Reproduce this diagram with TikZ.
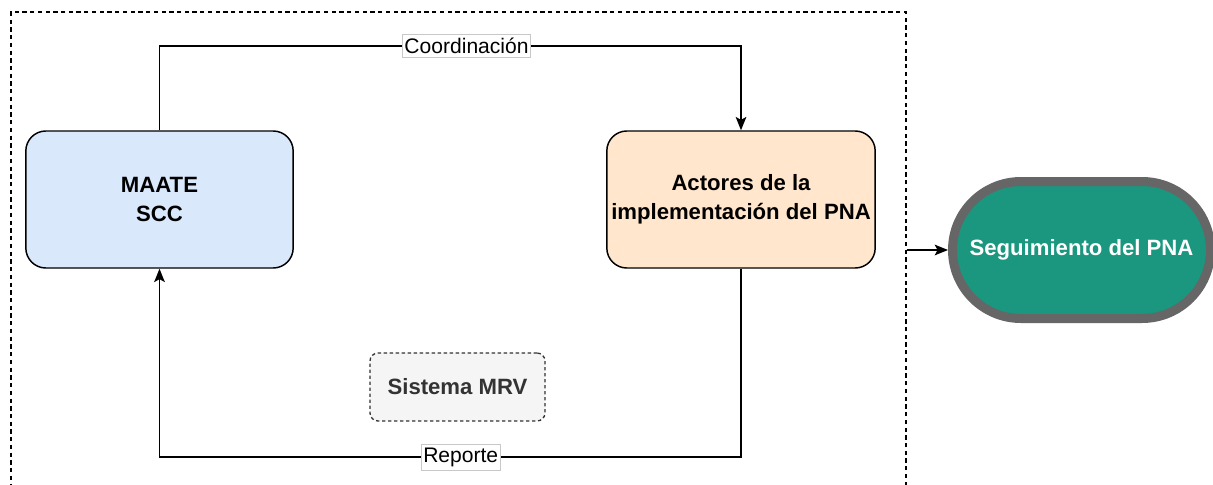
\documentclass[tikz,border=0pt]{standalone}
\usepackage{fontspec}
\setmainfont{Liberation Sans}
\usetikzlibrary{arrows.meta,shapes.misc}
\definecolor{bluefill}{HTML}{DAE8FC}
\definecolor{orangefill}{HTML}{FFE6CC}
\definecolor{grayfill}{HTML}{F5F5F5}
\definecolor{graytext}{HTML}{333333}
\definecolor{tealfill}{HTML}{1B967F}
\definecolor{tealborder}{HTML}{666666}
\definecolor{labelborder}{HTML}{C8C8C8}
\tikzset{
  px/.style={x=0.75pt,y=-0.75pt},
  boldtext/.style={font=\fontsize{16.6}{22}\selectfont\bfseries},
  mainbox/.style={draw=black, line width=1.1pt, rounded corners=15pt, align=center,
    boldtext, minimum width=200.5pt, minimum height=102.75pt},
  conn/.style={draw=black, line width=1.1pt},
  tip/.style={-{Stealth[length=10pt,width=8pt,inset=2.2pt]}},
  edgelabel/.style={fill=white, draw=labelborder, line width=0.6pt, inner xsep=1.3pt,
    inner ysep=2.6pt, font=\fontsize{15.8}{18}\selectfont},
}
\begin{document}
\begin{tikzpicture}[px]
\useasboundingbox (0,0) rectangle (1213,485);
\clip (0,0) rectangle (1213,485);
\fill[white] (0,0) rectangle (1213,485);
% dashed frame
\node[draw=black, line width=1.1pt, dash pattern=on 3.2pt off 2.6pt,
  minimum width=671.25pt, minimum height=357pt, inner sep=0pt] (frame) at (458.5,250) {};
% nodes
\node[mainbox, fill=bluefill] (maate) at (159.5,199.5) {MAATE\\SCC};
\node[mainbox, fill=orangefill] (actores) at (741,199.5) {Actores de la\\implementación del PNA};
\node[draw=graytext, fill=grayfill, line width=1pt, dash pattern=on 2.5pt off 2pt,
  rounded corners=6pt, minimum width=131.25pt, minimum height=51pt,
  text=graytext, boldtext] (mrv) at (457.5,387) {Sistema MRV};
\node[rounded rectangle, draw=tealborder, line width=6.75pt, fill=tealfill, text=white,
  minimum width=193.5pt, minimum height=102.75pt, inner sep=0pt,
  boldtext] (seg) at (1081.5,250) {Seguimiento del PNA};
% connectors
\draw[conn, tip] (maate.north) -- (maate.north |- 0,46) -| (actores.north)
  node[edgelabel, pos=0.264] (lcoord) {Coordinación};
\draw[conn, tip] (actores.south) -- (actores.south |- 0,457) -| (maate.south)
  node[edgelabel, pos=0.241] (lrep) {Reporte};
\draw[conn, tip] (seg.west -| frame.east) -- (seg.west);
\end{tikzpicture}
\end{document}
